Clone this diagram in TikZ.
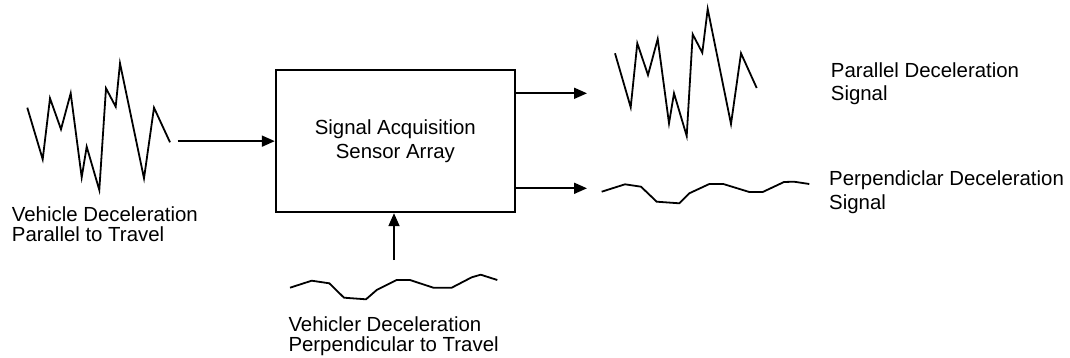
\documentclass[tikz,border=0pt]{standalone}
\usepackage{fontspec}
\setmainfont{Liberation Sans}
\usetikzlibrary{arrows.meta}
\tikzset{
  arr/.style={line width=1.8pt, -{Triangle[length=13pt,width=11pt]}},
  lbl/.style={anchor=base west, inner sep=0pt, align=left},
  wave/.style={line width=1.8pt, line join=miter},
}
\begin{document}
\begin{tikzpicture}[x=1pt,y=-1pt]
\useasboundingbox (0,0) rectangle (1070,358);
% box
\node[draw, line width=1.8pt, minimum width=239.3pt, minimum height=142.3pt, inner sep=0pt,
      align=center, font=\fontsize{20.4}{23.3}\selectfont] (box) at (395.35,141.15)
      {Signal Acquisition\\Sensor Array};
% signals
\draw[wave] (27.3,107.7)--(42.7,159.3)--(50,98.3)--(61,129.3)--(70.7,93.3)--(81.7,177.3)--(86.7,146.7)--(99.3,190)--(106,88.3)--(115.7,106.7)--(120,63.3)--(144,178.3)--(154,107.7)--(170,142.3);
\draw[wave] (615,53.3)--(630.7,107.3)--(637.3,43.3)--(648,75)--(657.7,39)--(669,123.3)--(674,93.3)--(686.7,136)--(692.7,34.3)--(702.3,52.7)--(707.7,9)--(731,124)--(741,53.3)--(756.7,88);
\draw[wave] (601.7,191.7)--(625,184.3)--(641,186.7)--(656.7,201.7)--(679.3,203.3)--(689.3,193.3)--(709.3,184)--(723.3,184)--(749.3,192)--(762.7,192)--(784,182)--(794,181.7)--(809.3,184);
\draw[wave] (290,287.7)--(311.7,280.7)--(329.3,283.3)--(344,297.7)--(366,299.3)--(376.7,290)--(396.7,280)--(410,280)--(433.3,287.7)--(451.7,287.7)--(471.7,277.3)--(480.7,274.7)--(497.3,280);
% coordinates for connector ends
\coordinate (inL) at (177.7,141.15);
\coordinate (outA) at (587,93.3);
\coordinate (outB) at (587,188.3);
\coordinate (inB) at (394,260);
% connectors
\draw[arr] (inL) -- (box.west);
\draw[arr] (box.east |- outA) -- (outA);
\draw[arr] (box.east |- outB) -- (outB);
\draw[arr] (inB) -- (inB |- box.south);
% labels (anchor = baseline of last line)
\node[lbl, font=\fontsize{20.4}{20.5}\selectfont] (l1) at (11.7,241.5) {Vehicle Deceleration\\Parallel to Travel};
\node[lbl, font=\fontsize{20.4}{23.3}\selectfont] (l2) at (830.7,100.7) {Parallel Deceleration\\Signal};
\node[lbl, font=\fontsize{20.4}{23.3}\selectfont] (l3) at (829,209) {Perpendiclar Deceleration\\Signal};
\node[lbl, font=\fontsize{20.4}{20.5}\selectfont] (l4) at (288.3,351.7) {Vehicler Deceleration\\Perpendicular to Travel};
\end{tikzpicture}
\end{document}
